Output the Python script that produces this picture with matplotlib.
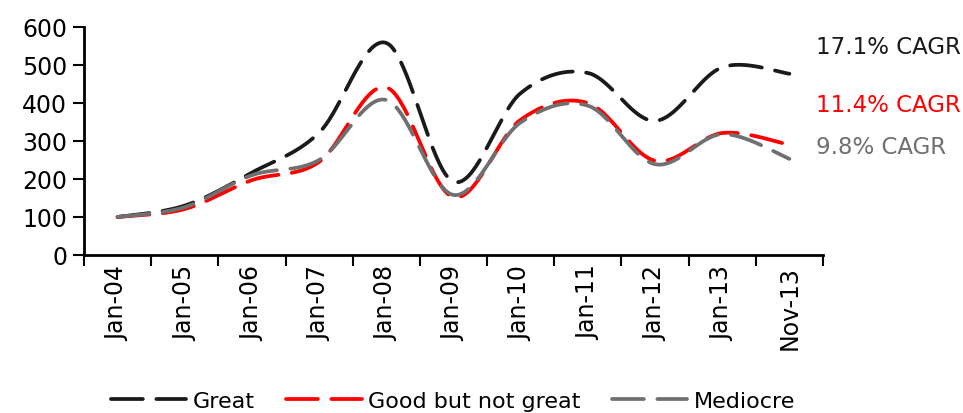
import numpy as np
import matplotlib
matplotlib.use("Agg")
import matplotlib.pyplot as plt

# Indexed portfolio values (Jan-04 = 100)
periods = ["Jan-04", "Jan-05", "Jan-06", "Jan-07", "Jan-08", "Jan-09",
           "Jan-10", "Jan-11", "Jan-12", "Jan-13", "Nov-13"]
great = [100, 130, 217, 322, 558, 193, 426, 479, 353, 494, 477]
good_not_great = [100, 121, 197, 245, 441, 152, 356, 400, 248, 321, 290]
mediocre = [100, 126, 210, 250, 408, 158, 349, 393, 239, 318, 253]

series_names = ["Great", "Good but not great", "Mediocre"]
cagr_labels = ["17.1% CAGR", "11.4% CAGR", "9.8% CAGR"]
colors = ["#1a1a1a", "#ff0000", "#707070"]


def smooth(xs, ys, n=40):
    """Bezier smoothing through every point (control arms of 1/6 neighbour span)."""
    p = np.column_stack([xs, ys]).astype(float)
    ext = np.vstack([p[0], p, p[-1]])
    out = []
    for i in range(len(p) - 1):
        p0, p1 = ext[i + 1], ext[i + 2]
        c1 = p0 + (ext[i + 2] - ext[i]) / 6.0
        c2 = p1 - (ext[i + 3] - ext[i + 1]) / 6.0
        t = np.linspace(0, 1, n)[:, None]
        seg = ((1 - t) ** 3) * p0 + 3 * ((1 - t) ** 2) * t * c1 \
            + 3 * (1 - t) * t ** 2 * c2 + t ** 3 * p1
        out.append(seg if i == 0 else seg[1:])
    pts = np.vstack(out)
    return pts[:, 0], pts[:, 1]


plt.rcParams["font.family"] = ["DejaVu Sans"]
fig = plt.figure(figsize=(9.63, 4.14), dpi=100)
ax = fig.add_axes([84 / 963, 1 - 256 / 414, (823 - 84) / 963, (256 - 28) / 414])

x = np.arange(len(periods))
for vals, name, col in zip([great, good_not_great, mediocre], series_names, colors):
    sx, sy = smooth(x, vals)
    ax.plot(sx, sy, color=col, lw=2.7, linestyle=(0, (8.5, 3.6)),
            dash_capstyle="round", solid_capstyle="round", label=name)

ax.set_xlim(-0.5, len(periods) - 0.5)
ax.set_ylim(0, 600)
ax.set_yticks(range(0, 601, 100))
ax.set_xticks(x)
ax.set_xticklabels(periods, rotation=90, fontsize=17)
ax.set_xticks(np.arange(-0.5, len(periods)), minor=True)
ax.tick_params(axis="x", which="major", length=0, pad=7)
ax.tick_params(axis="x", which="minor", length=8, width=1.5, direction="out")
ax.tick_params(axis="y", length=8, width=1.5, labelsize=17, pad=4)
for side in ("top", "right"):
    ax.spines[side].set_visible(False)
for side in ("left", "bottom"):
    ax.spines[side].set_linewidth(2)

# Growth-rate labels beside the series ends
for label, col, ypix in zip(cagr_labels, colors, [47, 105, 147]):
    fig.text(816 / 963, 1 - ypix / 414, label, color=col, fontsize=16.5,
             ha="left", va="center")

fig.legend(loc="center", bbox_to_anchor=(453 / 963, 12 / 414), ncol=3,
           frameon=False, fontsize=16, handlelength=3.4, columnspacing=1.4,
           handletextpad=0.3)

fig.savefig("out.png", dpi=100)
